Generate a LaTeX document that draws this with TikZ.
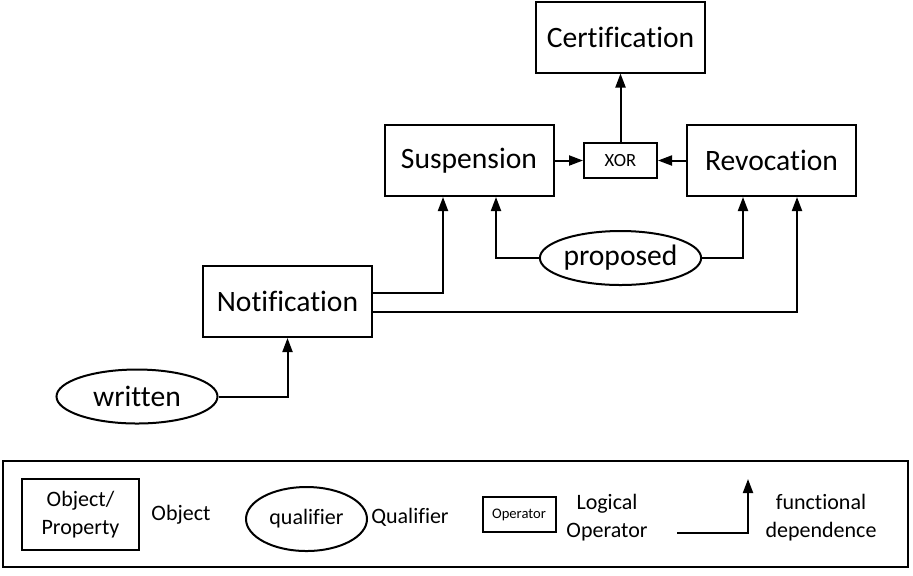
\documentclass[tikz,border=0pt]{standalone}
\usepackage{fontspec}
\setmainfont{Carlito}[Ligatures=NoCommon]
\usetikzlibrary{arrows.meta,positioning,shapes.geometric}

\begin{document}
\begin{tikzpicture}[x=0.5pt,y=-0.5pt,node distance=2cm,on grid,line width=1pt,
    >={Triangle[length=7pt,width=5pt]}]
  \tikzset{
    objbox/.style={draw,rectangle,minimum width=84.5pt,minimum height=35.5pt,inner sep=0pt,
      font=\fontsize{14.8}{17}\selectfont},
    qualnode/.style={draw,ellipse,minimum width=80.5pt,minimum height=27pt,inner sep=0pt,
      font=\fontsize{14.8}{17}\selectfont},
    opbox/.style={draw,rectangle,minimum width=36.5pt,minimum height=17.5pt,inner sep=0pt,
      font=\fontsize{9.3}{11}\selectfont},
    legtext/.style={align=center,font=\fontsize{11}{14}\selectfont}
  }
  \useasboundingbox (0,0) rectangle (913,575);

  % main diagram
  \node[objbox] (susp)                           at (469,160.5) {Suspension};
  \node[opbox]  (xor)   [right=75.75pt of susp]               {XOR};
  \node[objbox] (rev)   [right=75.5pt of xor]                 {Revocation};
  \node[objbox] (cert)  [above=61.75pt of xor]                {Certification};
  \node[qualnode] (prop) [below=48.75pt of xor]               {proposed};
  \node[objbox] (notif) [below left=70.5pt and 90.75pt of susp] {Notification};
  \node[qualnode] (writ) [below left=47.5pt and 75.25pt of notif] {written};

  \path[->]
    (susp) edge (xor)
    (rev)  edge (xor)
    (xor)  edge (cert);
  \draw[->] (prop.west) -| ([xshift=13.5pt]susp.south);
  \draw[->] (prop.east) -| ([xshift=-14.25pt]rev.south);
  \draw[->] ([yshift=4.25pt]notif.east) -| ([xshift=-13pt]susp.south);
  \draw[->] ([yshift=-5.25pt]notif.east) -| ([xshift=12.75pt]rev.south);
  \draw[->] (writ.east) -| (notif.south);

  % legend
  \draw (3,461) rectangle (908,567);
  \node[objbox,legtext,minimum width=58.5pt] (lobj) at (80.5,514.5) {Object/\\Property};
  \node[legtext] (lobjtxt) at (181,515) {Object};
  \node[qualnode,legtext,minimum width=60.5pt,minimum height=32pt] (lqual) at (306.5,519) {qualifier};
  \node[legtext] (lqualtxt) at (410,517) {Qualifier};
  \node[opbox,font=\fontsize{7.3}{9}\selectfont] (lop) at (519,514.5) {Operator};
  \node[legtext] (loptxt) at (607,518) {Logical\\Operator};
  \coordinate (ldepstart) at (677,533);
  \coordinate (ldepend) at (748,479);
  \draw[->] (ldepstart) -| (ldepend);
  \node[legtext] (ldeptxt) at (821,518) {functional\\dependence};
\end{tikzpicture}
\end{document}
